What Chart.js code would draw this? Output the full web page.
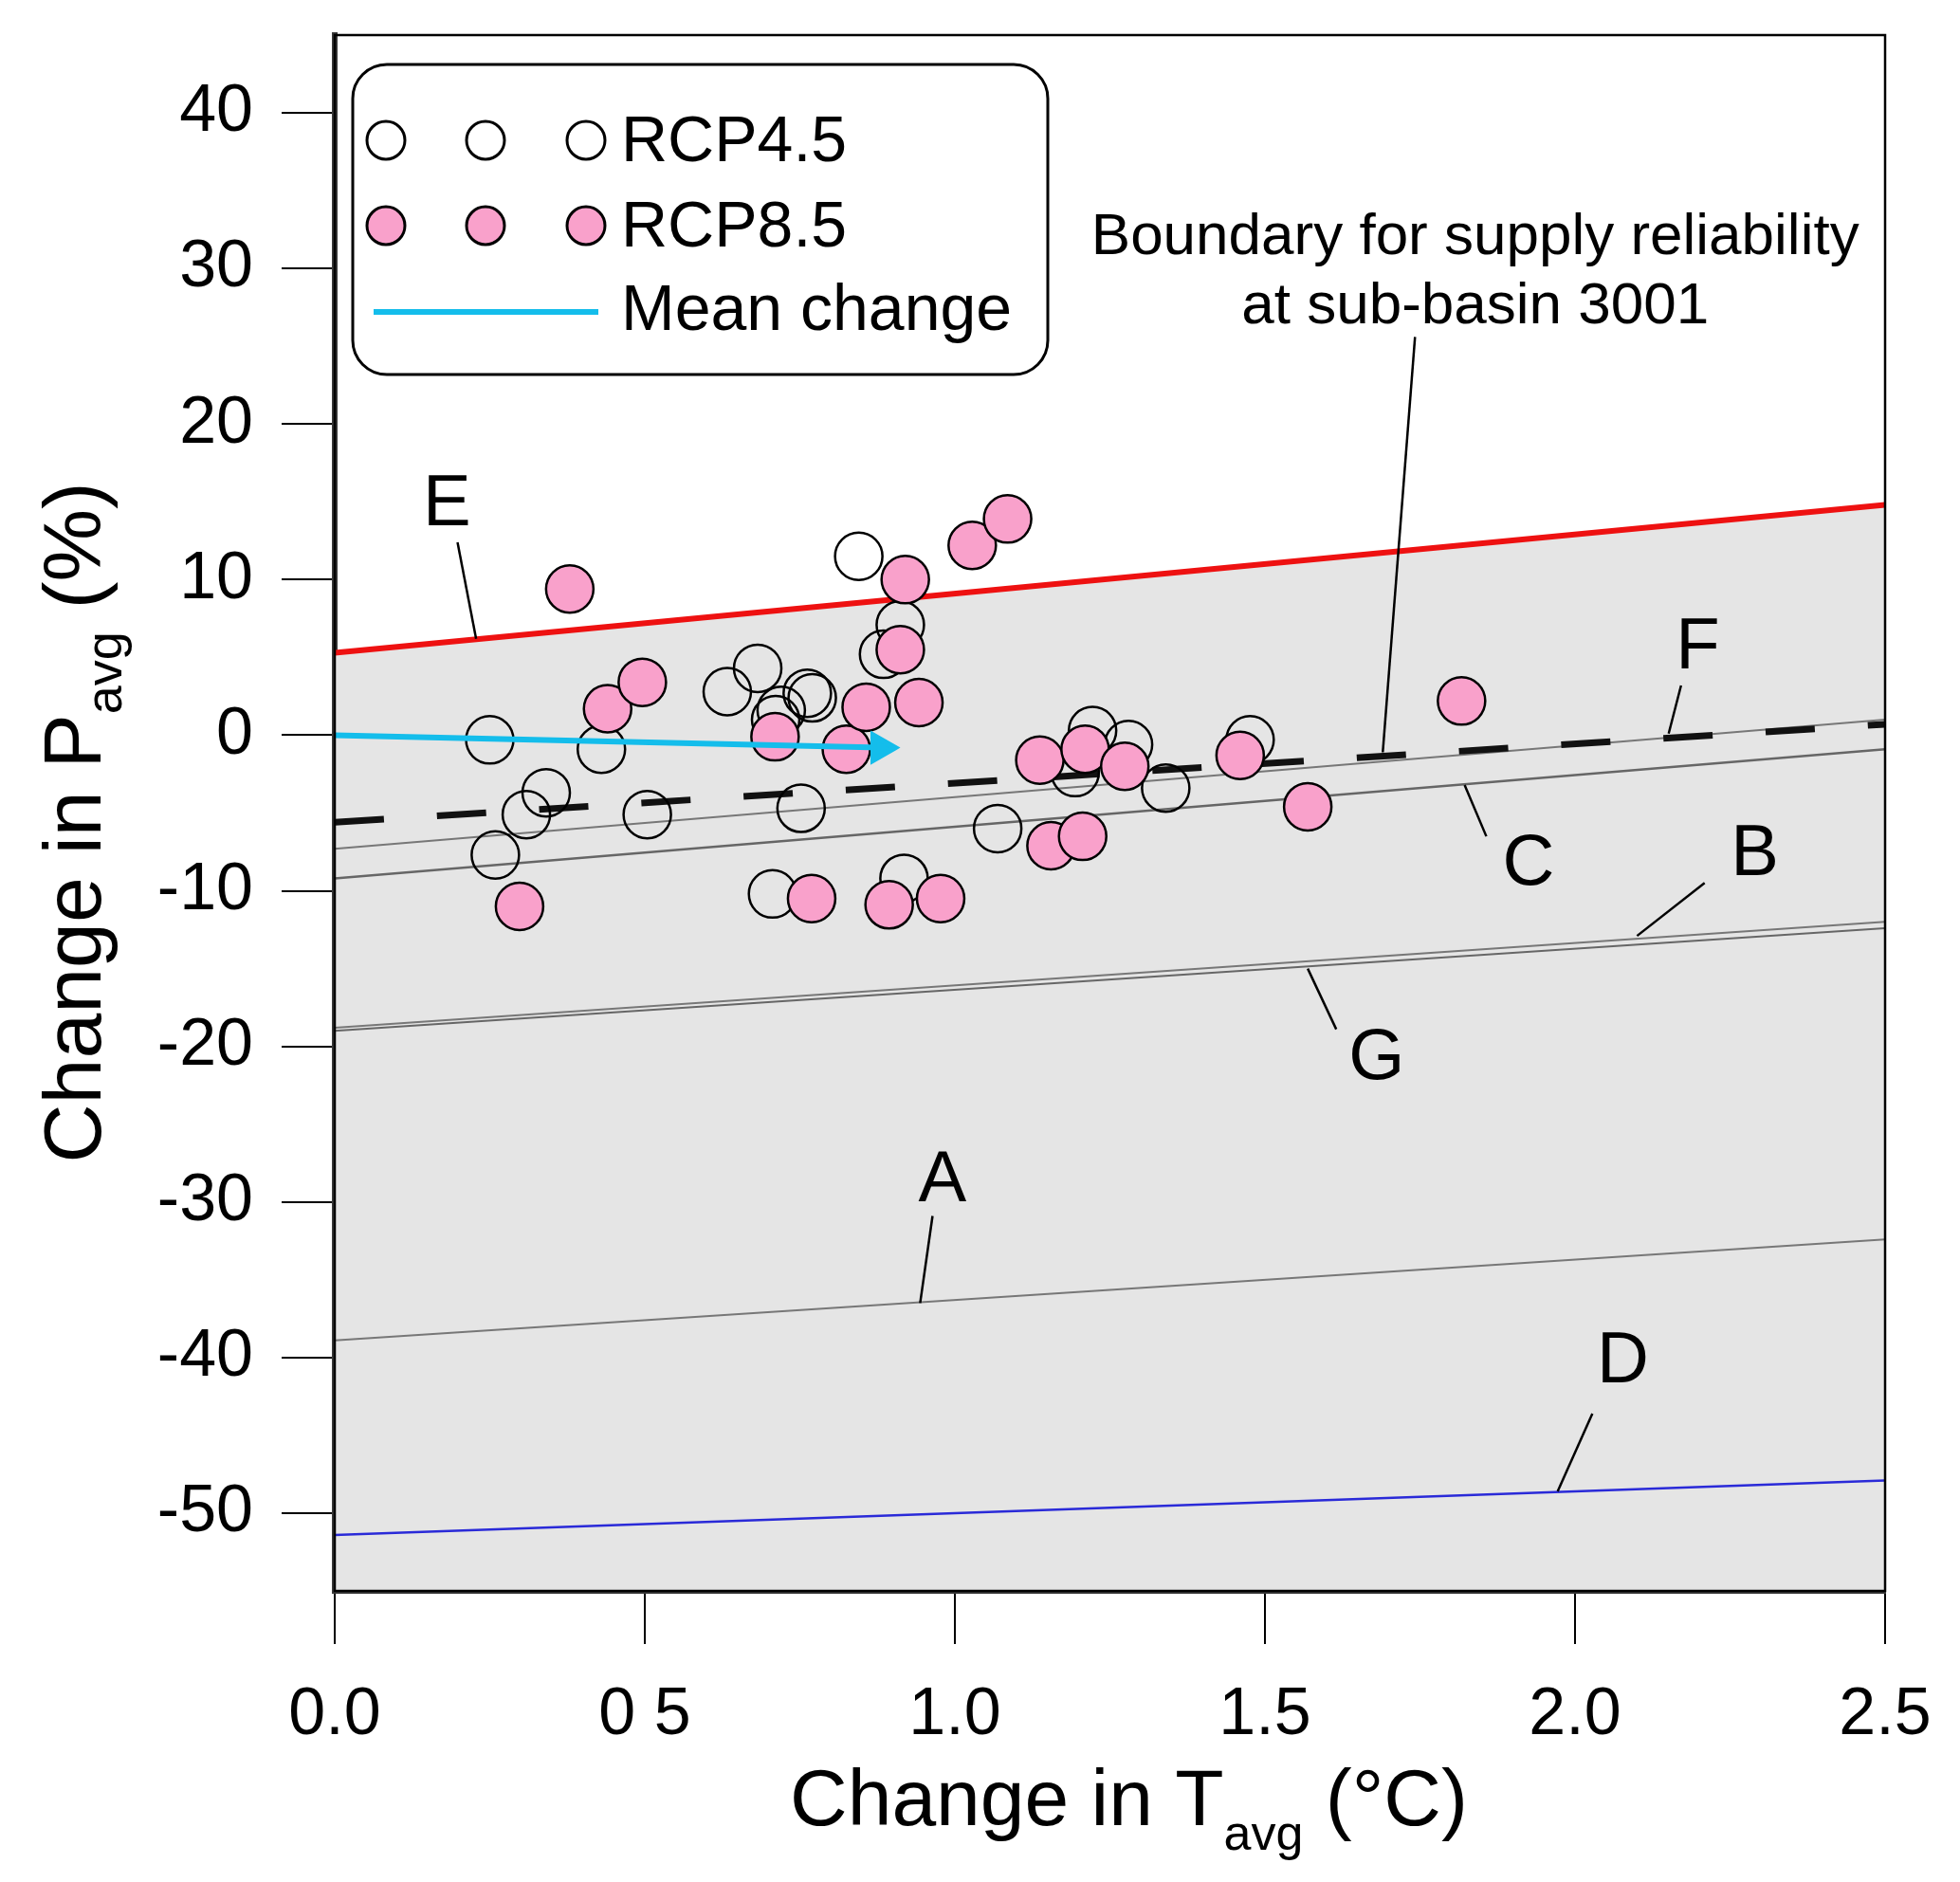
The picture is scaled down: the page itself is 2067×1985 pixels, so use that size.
<!DOCTYPE html>
<html>
<head>
<meta charset="utf-8">
<script src="https://cdn.jsdelivr.net/npm/chart.js@4.4.1/dist/chart.umd.min.js"></script>
<style>
    html, body { margin: 0; padding: 0; background: #ffffff; }
    #wrap { width: 2067px; height: 1985px; }
</style>
</head>
<body>
<div id="wrap"><canvas id="chart" width="2067" height="1985"></canvas></div>
<script>
// axis ticks
const xTicks = [0, 0.5, 1.0, 1.5, 2.0, 2.5];
const xTickLabels = ['0.0', '0 5', '1.0', '1.5', '2.0', '2.5'];
const yTicks = [-50, -40, -30, -20, -10, 0, 10, 20, 30, 40];

// GCM projections (change in T, change in P)
const rcp45T = [0.25, 0.259, 0.309, 0.341, 0.43, 0.504, 0.633, 0.682, 0.711, 0.72, 0.762, 0.77, 0.752, 0.706,
                0.845, 0.912, 0.885, 0.918, 1.069, 1.222, 1.28, 1.194, 1.34, 1.476];
const rcp45P = [-0.3, -7.7, -5.1, -3.7, -0.9, -5.1, 2.8, 4.3, 1.0, 1.6, 2.7, 2.4, -4.7, -10.2,
                11.5, 7.1, 5.2, -9.2, -6.0, 0.3, -0.6, -2.4, -3.4, -0.3];
const rcp85T = [0.298, 0.379, 0.44, 0.496, 0.71, 0.769, 0.825, 0.857, 0.894, 0.92, 0.912, 0.942, 0.977,
                1.028, 1.085, 1.137, 1.21, 1.274, 1.155, 1.206, 1.46, 1.569, 1.817];
const rcp85P = [-11.0, 9.4, 1.7, 3.4, -0.1, -10.5, -0.9, 1.8, -10.9, 10.0, 5.5, 2.1, -10.5,
                12.2, 13.9, -1.6, -0.9, -2.0, -7.1, -6.5, -1.3, -4.6, 2.2];

// boundary lines, value at T = 0 and T = 2.5
const lineT = [0, 2.5];
const lineE = [5.3, 14.8];
const lineBoundary = [-5.6, 0.7];
const lineF = [-7.3, 1.0];
const lineC = [-9.2, -0.9];
const lineB = [-18.8, -12.0];
const lineG = [-19.0, -12.4];
const lineA = [-38.9, -32.4];
const lineD = [-51.4, -47.9];

// mean change arrow
const meanT = [0, 0.88];
const meanP = [0, -0.8];

// letter labels with leader lines (data units)
const labelMarks = [
    { text: 'E', x: 0.181, y: 14.8, from: [0.198, 12.4], to: [0.228, 6.2] },
    { text: 'F', x: 2.198, y: 5.6, from: [2.171, 3.2], to: [2.151, 0.1] },
    { text: 'C', x: 1.925, y: -8.3, from: [1.822, -3.2], to: [1.857, -6.5] },
    { text: 'B', x: 2.29, y: -7.7, from: [2.209, -9.5], to: [2.10, -12.9] },
    { text: 'G', x: 1.68, y: -20.8, from: [1.569, -15.0], to: [1.615, -18.9] },
    { text: 'A', x: 0.98, y: -28.7, from: [0.964, -30.9], to: [0.944, -36.5] },
    { text: 'D', x: 2.077, y: -40.3, from: [2.028, -43.6], to: [1.972, -48.6] }
];
const boundaryNote = ['Boundary for supply reliability', 'at sub-basin 3001'];

const FONT = '"Liberation Sans", Arial, sans-serif';
const PINK = '#f9a1cb';
const CYAN = '#14bdeb';

function pts(xs, ys) {
    return xs.map((x, i) => ({ x: x, y: ys[i] }));
}

function lineSet(label, ys, color, width, order, extra) {
    return Object.assign({
        label: label,
        data: pts(lineT, ys),
        showLine: true,
        borderColor: color,
        borderWidth: width,
        pointRadius: 0,
        fill: false,
        order: order
    }, extra || {});
}

function drawParts(ctx, parts, cx, cy) {
    let total = 0;
    parts.forEach(p => {
        ctx.font = p.size + 'px ' + FONT;
        p.w = ctx.measureText(p.t).width;
        total += p.w;
    });
    let x = cx - total / 2;
    ctx.textAlign = 'left';
    ctx.textBaseline = 'alphabetic';
    parts.forEach(p => {
        ctx.font = p.size + 'px ' + FONT;
        ctx.fillText(p.t, x, cy + (p.dy || 0));
        x += p.w;
    });
}

const decorPlugin = {
    id: 'decor',
    afterDatasetsDraw(chart) {
        const ctx = chart.ctx;
        const xs = chart.scales.x;
        const ys = chart.scales.y;
        const area = chart.chartArea;
        const px = v => xs.getPixelForValue(v);
        const py = v => ys.getPixelForValue(v);

        ctx.save();
        // leader lines and letters
        ctx.strokeStyle = '#000';
        ctx.lineWidth = 2.5;
        ctx.fillStyle = '#000';
        labelMarks.forEach(m => {
            ctx.beginPath();
            ctx.moveTo(px(m.from[0]), py(m.from[1]));
            ctx.lineTo(px(m.to[0]), py(m.to[1]));
            ctx.stroke();
            ctx.font = '76px ' + FONT;
            ctx.textAlign = 'center';
            ctx.textBaseline = 'middle';
            ctx.fillText(m.text, px(m.x), py(m.y));
        });

        // boundary note
        ctx.beginPath();
        ctx.moveTo(px(1.742), py(25.6));
        ctx.lineTo(px(1.690), py(-1.1));
        ctx.stroke();
        ctx.font = '62px ' + FONT;
        ctx.textAlign = 'center';
        ctx.textBaseline = 'alphabetic';
        ctx.fillText(boundaryNote[0], px(1.839), py(30.9));
        ctx.fillText(boundaryNote[1], px(1.839), py(26.5));

        // frame
        ctx.strokeStyle = '#000';
        ctx.lineWidth = 2.5;
        ctx.strokeRect(area.left, area.top, area.right - area.left, area.bottom - area.top);

        // legend box
        const lx = area.left + 19, ly = area.top + 31, lw = 733, lh = 327, r = 36;
        ctx.fillStyle = '#fff';
        ctx.beginPath();
        ctx.roundRect(lx, ly, lw, lh, r);
        ctx.fill();
        ctx.lineWidth = 3;
        ctx.stroke();

        const rows = [
            { text: 'RCP4.5', fill: null, y: 80 },
            { text: 'RCP8.5', fill: PINK, y: 170 }
        ];
        rows.forEach(row => {
            [35, 140, 246].forEach(ox => {
                ctx.beginPath();
                ctx.arc(lx + ox, ly + row.y, 20, 0, Math.PI * 2);
                if (row.fill) {
                    ctx.fillStyle = row.fill;
                    ctx.fill();
                }
                ctx.lineWidth = 3;
                ctx.strokeStyle = '#000';
                ctx.stroke();
            });
            ctx.fillStyle = '#000';
            ctx.font = '68px ' + FONT;
            ctx.textAlign = 'left';
            ctx.textBaseline = 'middle';
            ctx.fillText(row.text, lx + 283, ly + row.y + 3);
        });
        ctx.strokeStyle = CYAN;
        ctx.lineWidth = 6;
        ctx.beginPath();
        ctx.moveTo(lx + 22, ly + 261);
        ctx.lineTo(lx + 259, ly + 261);
        ctx.stroke();
        ctx.fillStyle = '#000';
        ctx.fillText('Mean change', lx + 283, ly + 261);
        ctx.restore();
    },
    afterDraw(chart) {
        const ctx = chart.ctx;
        const area = chart.chartArea;
        ctx.save();
        ctx.fillStyle = '#000';
        // x title
        drawParts(ctx, [
            { t: 'Change in T', size: 84 },
            { t: 'avg', size: 52, dy: 26 },
            { t: ' (°C)', size: 84 }
        ], (area.left + area.right) / 2 + 20, 1925);
        // y title
        ctx.translate(106, (area.top + area.bottom) / 2 + 10);
        ctx.rotate(-Math.PI / 2);
        drawParts(ctx, [
            { t: 'Change in P', size: 86 },
            { t: 'avg', size: 54, dy: 22 },
            { t: ' (%)', size: 86 }
        ], 0, 0);
        ctx.restore();
    }
};

function initChart() {
    const canvas = document.getElementById('chart');
    if (!canvas || typeof Chart === 'undefined') {
        console.error('Chart.js or canvas missing');
        return;
    }

    new Chart(canvas.getContext('2d'), {
        type: 'scatter',
        data: {
            datasets: [
                {
                    label: 'Mean change',
                    data: pts(meanT, meanP),
                    showLine: true,
                    borderColor: CYAN,
                    borderWidth: 6,
                    pointStyle: 'triangle',
                    pointRotation: 90,
                    pointRadius: [0, 15],
                    pointBackgroundColor: CYAN,
                    pointBorderColor: CYAN,
                    order: 0
                },
                {
                    label: 'RCP8.5',
                    data: pts(rcp85T, rcp85P),
                    pointRadius: 25,
                    pointBackgroundColor: PINK,
                    pointBorderColor: '#000',
                    pointBorderWidth: 2.5,
                    order: 1
                },
                {
                    label: 'RCP4.5',
                    data: pts(rcp45T, rcp45P),
                    pointRadius: 25,
                    pointBackgroundColor: 'rgba(0,0,0,0)',
                    pointBorderColor: '#000',
                    pointBorderWidth: 2.5,
                    order: 2
                },
                lineSet('Boundary', lineBoundary, '#111', 7, 3, { borderDash: [52, 56], borderCapStyle: 'butt' }),
                lineSet('F', lineF, '#777', 2, 4),
                lineSet('C', lineC, '#666', 2.5, 5),
                lineSet('B', lineB, '#777', 2, 6),
                lineSet('G', lineG, '#666', 2, 7),
                lineSet('A', lineA, '#777', 2, 8),
                lineSet('D', lineD, '#2a2ad8', 2.5, 9),
                lineSet('E', lineE, '#ee1111', 6, 10, { fill: 'start', backgroundColor: '#e5e5e5' })
            ]
        },
        options: {
            responsive: false,
            devicePixelRatio: 1,
            animation: false,
            layout: {
                padding: { top: 37, right: 79, left: 0, bottom: 0 }
            },
            plugins: {
                legend: { display: false },
                tooltip: { enabled: false },
                title: { display: false }
            },
            scales: {
                x: {
                    type: 'linear',
                    min: 0,
                    max: 2.5,
                    afterFit(scale) {
                        scale.height = 307;
                        scale.paddingLeft = 0;
                        scale.paddingRight = 0;
                    },
                    afterBuildTicks(scale) { scale.ticks = xTicks.map(v => ({ value: v })); },
                    grid: {
                        drawOnChartArea: false,
                        drawTicks: true,
                        tickLength: 56,
                        color: '#000',
                        lineWidth: 2
                    },
                    border: { display: true, width: 6, color: '#3a3a3a' },
                    ticks: {
                        padding: 34,
                        color: '#000',
                        maxRotation: 0,
                        font: { size: 70, family: FONT },
                        callback: (v) => {
                            const i = xTicks.indexOf(v);
                            return i >= 0 ? xTickLabels[i] : '';
                        }
                    }
                },
                y: {
                    type: 'linear',
                    min: -55,
                    max: 45,
                    afterFit(scale) {
                        scale.width = 353;
                        scale.paddingTop = 0;
                        scale.paddingBottom = 0;
                    },
                    afterBuildTicks(scale) { scale.ticks = yTicks.map(v => ({ value: v })); },
                    grid: {
                        drawOnChartArea: false,
                        drawTicks: true,
                        tickLength: 56,
                        color: '#000',
                        lineWidth: 2
                    },
                    border: { display: true, width: 6, color: '#3a3a3a' },
                    ticks: {
                        padding: 30,
                        color: '#000',
                        font: { size: 70, family: FONT }
                    }
                }
            }
        },
        plugins: [decorPlugin]
    });
}

initChart();
</script>
</body>
</html>
